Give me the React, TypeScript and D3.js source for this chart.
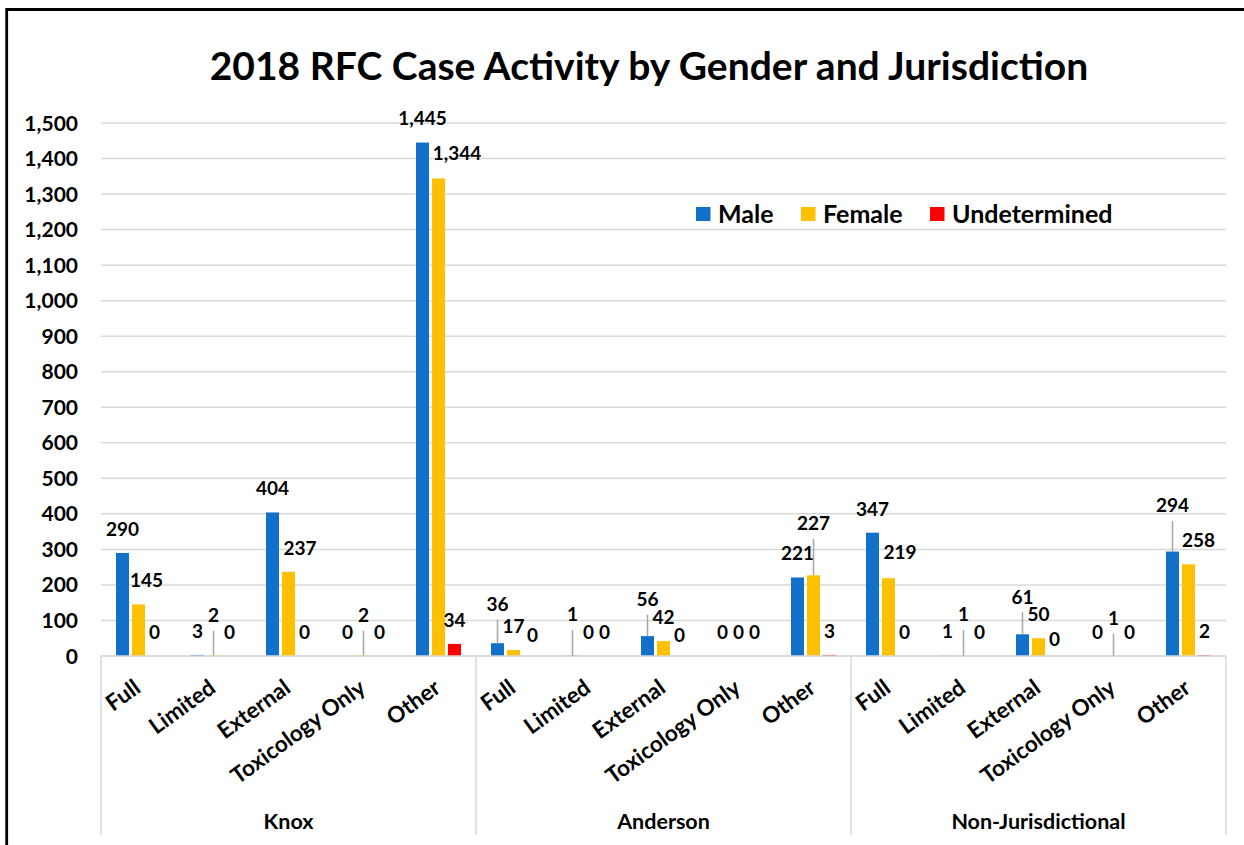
import React from "react";
import * as d3 from "d3";

const title = "2018 RFC Case Activity by Gender and Jurisdiction";
const groups = ["Knox", "Anderson", "Non-Jurisdictional"];
const caseTypes = ["Full", "Limited", "External", "Toxicology Only", "Other"];
const seriesNames = ["Male", "Female", "Undetermined"];
const seriesColors = ["#1170c9", "#ffc000", "#ff0000"];

const male = [290, 3, 404, 0, 1445, 36, 1, 56, 0, 221, 347, 1, 61, 0, 294];
const female = [145, 2, 237, 2, 1344, 17, 0, 42, 0, 227, 219, 1, 50, 1, 258];
const undetermined = [0, 0, 0, 0, 34, 0, 0, 0, 0, 3, 0, 0, 0, 0, 2];

const yTicks = d3.range(0, 1501, 100);

// label placement nudges (dx, dy in px) relative to default "outside end" spot, keyed by "category-series"
const labelNudges: Record<string, [number, number]> = {
  "0-1": [8, 0],
  "1-1": [0, -16],
  "2-1": [11.5, 0],
  "3-1": [0, -16],
  "4-1": [18.5, -1.5],
  "5-0": [0, -15],
  "5-2": [3, 3],
  "6-0": [0, -17],
  "7-0": [0, -13],
  "7-2": [0, 3],
  "9-1": [0, -28],
  "10-1": [11.5, -2.5],
  "11-1": [0, -17],
  "12-0": [0, -13.5],
  "12-2": [0, 7],
  "13-1": [0, -13.5],
  "14-0": [0, -22],
  "14-1": [10, 0],
};

const FONT = "Lato, 'Open Sans', sans-serif";

export default function App() {
  const W = 1244;
  const H = 845;
  const plotLeft = 101;
  const plotRight = 1226;
  const plotBottom = 656;
  const plotTop = 123;
  const axisBottom = 835;

  const values = [male, female, undetermined];
  const cats = d3.range(groups.length * caseTypes.length);

  const x0 = d3.scaleBand<number>().domain(cats).range([plotLeft, plotRight]).paddingInner(0).paddingOuter(0);
  const x1 = d3
    .scaleBand<number>()
    .domain([0, 1, 2])
    .range([0, x0.bandwidth()])
    .paddingInner(0.1875)
    .paddingOuter(0.9375);
  const y = d3.scaleLinear().domain([0, 1500]).range([plotBottom, plotTop]);
  const fmt = d3.format(",");

  const groupX = d3.scaleBand<number>().domain(d3.range(groups.length)).range([plotLeft, plotRight]);

  const legendX = [696, 801, 930];

  return (
    <svg
      width={W}
      height={H}
      style={{ position: "absolute", left: 0, top: 0, background: "#fff" }}
      fontFamily={FONT}
    >
      <rect x={0} y={0} width={W} height={H} fill="#fff" />
      {/* outer frame (cropped) */}
      <path d={`M6.7,${H} V9.5 H${W}`} fill="none" stroke="#000" strokeWidth={2.8} />

      {/* title */}
      <text x={649} y={80} textAnchor="middle" fontSize={39} fontWeight={700} fill="#000">
        {title}
      </text>

      {/* gridlines */}
      {yTicks.map((t) => (
        <line
          key={t}
          x1={plotLeft}
          x2={plotRight}
          y1={y(t)}
          y2={y(t)}
          stroke="#d9d9d9"
          strokeWidth={1.5}
        />
      ))}
      {/* y tick labels */}
      {yTicks.map((t) => (
        <text
          key={"yl" + t}
          x={78}
          y={y(t)}
          dy="0.36em"
          textAnchor="end"
          fontSize={21}
          fontWeight={700}
          fill="#000"
        >
          {fmt(t)}
        </text>
      ))}

      {/* bars */}
      {cats.map((c) =>
        values.map((vals, s) => {
          const v = vals[c];
          const bx = (x0(c) as number) + (x1(s) as number);
          return (
            <rect
              key={`b${c}-${s}`}
              x={bx}
              y={y(v)}
              width={x1.bandwidth()}
              height={plotBottom - y(v)}
              fill={seriesColors[s]}
            />
          );
        })
      )}

      {/* axis lines & separators */}
      <line x1={plotLeft} x2={plotRight} y1={plotBottom} y2={plotBottom} stroke="#d9d9d9" strokeWidth={1.5} />
      {d3.range(groups.length + 1).map((g) => {
        const gx = g < groups.length ? (groupX(g) as number) : plotRight;
        return (
          <line key={"sep" + g} x1={gx} x2={gx} y1={plotBottom} y2={axisBottom} stroke="#d9d9d9" strokeWidth={1.5} />
        );
      })}

      {/* leader lines and data labels */}
      {cats.map((c) =>
        values.map((vals, s) => {
          const v = vals[c];
          const cx = (x0(c) as number) + (x1(s) as number) + x1.bandwidth() / 2;
          const top = y(v);
          const [dx, dy] = labelNudges[`${c}-${s}`] || [0, 0];
          const ly = top - 24 + dy;
          const leader = dy < -8;
          return (
            <g key={`l${c}-${s}`}>
              {leader && (
                <line x1={cx} x2={cx} y1={top} y2={ly + 15.5} stroke="#a6a6a6" strokeWidth={1.5} />
              )}
              <text
                x={cx + dx}
                y={ly}
                dy="0.36em"
                textAnchor="middle"
                fontSize={19}
                fontWeight={700}
                fill="#000"
              >
                {fmt(v)}
              </text>
            </g>
          );
        })
      )}

      {/* category labels */}
      {cats.map((c) => {
        const cx = (x0(c) as number) + x0.bandwidth() / 2;
        return (
          <text
            key={"cat" + c}
            transform={`translate(${cx + 3.5},${691}) rotate(-36)`}
            textAnchor="end"
            fontSize={22.5}
            fontWeight={700}
            fill="#000"
          >
            {caseTypes[c % caseTypes.length]}
          </text>
        );
      })}

      {/* group labels */}
      {groups.map((g, i) => (
        <text
          key={"g" + i}
          x={(groupX(i) as number) + groupX.bandwidth() / 2}
          y={829}
          textAnchor="middle"
          fontSize={21.5}
          fontWeight={700}
          fill="#000"
        >
          {g}
        </text>
      ))}

      {/* legend */}
      {seriesNames.map((n, i) => (
        <g key={"leg" + i}>
          <rect x={legendX[i]} y={207} width={14.5} height={14} fill={seriesColors[i]} />
          <text x={legendX[i] + 22} y={214} dy="0.36em" fontSize={25} fontWeight={700} fill="#000">
            {n}
          </text>
        </g>
      ))}
    </svg>
  );
}
